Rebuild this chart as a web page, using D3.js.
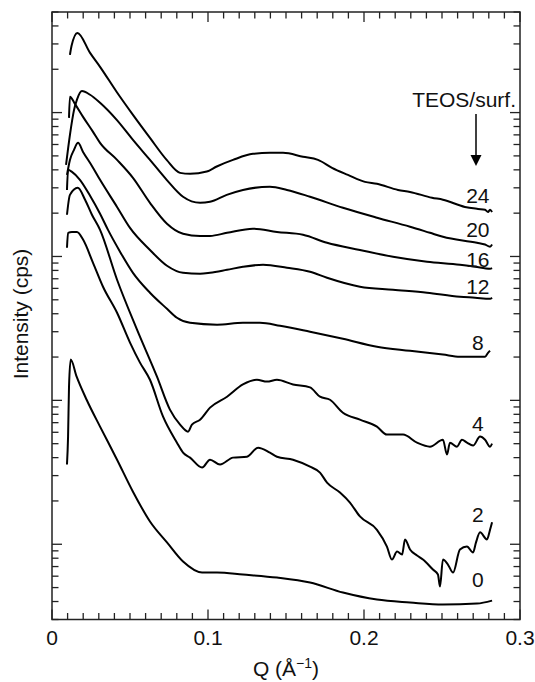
<!DOCTYPE html>
<html>
<head>
<meta charset="utf-8">
<script src="https://cdn.jsdelivr.net/npm/d3@7/dist/d3.min.js"></script>
<style>
  body { margin: 0; background: #fff; }
  text { font-family: "Liberation Sans", Arial, Helvetica, sans-serif; fill: #111; }
</style>
</head>
<body>
<svg id="chart" width="535" height="682"></svg>
<script>
// SAXS profiles, intensity (cps, vertically offset) vs Q (1/Å), one per TEOS/surfactant ratio
const teos24Q = [0.0115,0.0125,0.0163,0.0244,0.0308,0.0415,0.0519,0.0628,0.0735,0.0821,0.0885,0.0992,0.1056,0.1160,0.1288,0.1397,0.1481,0.1609,0.1705,0.1795,0.1897,0.2006,0.2083,0.2218,0.2295,0.2436,0.2506,0.2647,0.2731,0.2776,0.2795,0.2808,0.2821];
const teos24I = [25200,29000,35800,26000,20800,13900,9640,6670,4690,3810,3750,3890,4220,4690,5170,5250,5250,4930,4690,4130,3690,3300,3200,2900,2810,2560,2480,2210,2140,2110,2040,2110,2040];

const teos20Q = [0.0090,0.0115,0.0141,0.0160,0.0192,0.0244,0.0308,0.0415,0.0519,0.0628,0.0735,0.0840,0.0949,0.1013,0.1120,0.1224,0.1397,0.1506,0.1654,0.1865,0.2083,0.2295,0.2423,0.2506,0.2724,0.2776,0.2808,0.2821];
const teos20I = [4330,7000,10400,12300,14100,13300,11700,8900,6460,4690,3410,2600,2360,2400,2680,2900,3050,2900,2600,2180,1860,1610,1460,1370,1245,1210,1170,1210];

const teos16Q = [0.0109,0.0115,0.0147,0.0199,0.0263,0.0308,0.0417,0.0519,0.0628,0.0737,0.0840,0.0949,0.1013,0.1122,0.1288,0.1442,0.1609,0.1763,0.1974,0.2186,0.2404,0.2615,0.2712,0.2808,0.2821];
const teos16I = [9190,12900,11500,9340,7340,6160,4690,3520,2360,1690,1440,1390,1390,1460,1560,1480,1415,1245,1110,995,919,876,848,821,830];

const teos12Q = [0.0096,0.0115,0.0141,0.0167,0.0199,0.0256,0.0308,0.0417,0.0500,0.0628,0.0737,0.0840,0.0949,0.1013,0.1122,0.1224,0.1353,0.1506,0.1654,0.1763,0.1974,0.2186,0.2404,0.2615,0.2712,0.2808,0.2821];
const teos12I = [3690,4690,5510,6160,5330,4260,3410,2210,1580,1110,862,770,758,770,808,848,876,835,783,711,616,587,560,525,517,508,517];

const teos8Q = [0.0096,0.0103,0.0128,0.0179,0.0244,0.0308,0.0359,0.0436,0.0519,0.0628,0.0737,0.0801,0.0885,0.1058,0.1224,0.1333,0.1462,0.1654,0.1865,0.2083,0.2295,0.2506,0.2615,0.2724,0.2776,0.2795,0.2808];
const teos8I = [2900,4000,3870,3410,2640,1980,1530,1080,770,560,433,375,346,336,346,346,330,300,268,236,221,208,201,201,201,214,221];

const teos4Q = [0.0096,0.0115,0.0165,0.0212,0.0256,0.0308,0.0417,0.0545,0.0673,0.0756,0.0821,0.0872,0.0897,0.0949,0.1013,0.1122,0.1224,0.1314,0.1378,0.1442,0.1545,0.1654,0.1718,0.1782,0.1865,0.1974,0.2083,0.2147,0.2250,0.2340,0.2423,0.2506,0.2532,0.2551,0.2596,0.2628,0.2660,0.2699,0.2744,0.2776,0.2808,0.2821];
const teos4I = [1950,2680,3000,2480,1950,1530,689,310,146,86.2,67.8,60.6,67.8,73.4,89.0,106,129,139,135,139,129,123,106,101,82.1,73.4,65.7,57.8,57.8,50.8,47.7,53.3,42.0,50.8,47.7,53.3,50.8,48.5,56.0,53.3,47.7,50.0];

const teos2Q = [0.0096,0.0103,0.0128,0.0160,0.0199,0.0263,0.0327,0.0417,0.0500,0.0564,0.0628,0.0712,0.0801,0.0840,0.0885,0.0962,0.1013,0.1077,0.1160,0.1250,0.1321,0.1397,0.1442,0.1545,0.1654,0.1718,0.1763,0.1846,0.1910,0.1974,0.2083,0.2147,0.2179,0.2212,0.2244,0.2263,0.2295,0.2340,0.2378,0.2442,0.2474,0.2487,0.2506,0.2538,0.2571,0.2615,0.2660,0.2699,0.2718,0.2744,0.2788,0.2808,0.2821];
const teos2I = [1150,1460,1480,1480,1310,904,616,406,252,183,139,77.0,50.8,43.3,40.0,34.1,38.7,35.8,40.0,40.6,46.9,43.3,40.6,38.7,34.6,31.5,26.8,22.9,19.5,15.6,12.6,9.64,7.83,8.90,8.48,10.8,9.19,8.35,7.83,6.67,6.16,5.08,7.83,7.23,6.36,9.19,9.64,8.76,10.3,12.1,10.8,12.6,14.2];

const teos0Q = [0.0096,0.0103,0.0109,0.0120,0.0158,0.0222,0.0308,0.0417,0.0519,0.0628,0.0737,0.0840,0.0962,0.1058,0.1224,0.1442,0.1654,0.1865,0.2083,0.2295,0.2506,0.2724,0.2821];
const teos0I = [35.8,56.0,124,192,146,101,65.7,38.7,23.2,14.4,10.3,7.58,6.36,6.36,6.16,5.87,5.42,4.62,4.13,3.94,3.81,3.87,4.06];

const ratioLabels = ["24","20","16","12","8","4","2","0"];
const seriesQ = [teos24Q, teos20Q, teos16Q, teos12Q, teos8Q, teos4Q, teos2Q, teos0Q];
const seriesI = [teos24I, teos20I, teos16I, teos12I, teos8I, teos4I, teos2I, teos0I];

const xMajorTicks = [0, 0.1, 0.2, 0.3];
const xTickLabels = ["0", "0.1", "0.2", "0.3"];

// ---- layout ----
const plot = { left: 52, right: 520, top: 12, bottom: 619.5 };
const fontSize = 21;
const svg = d3.select("#chart");

const x = d3.scaleLinear().domain([0, 0.3]).range([plot.left, plot.right]);
const y = d3.scaleLog().domain([3, 5e4]).range([plot.bottom, plot.top]);

// tick positions
const xMinor = d3.range(0, 0.3001, 0.01).map(v => +v.toFixed(3));
const yTicks = [];
for (let e = 0; e <= 4; e++) {
  for (let m = 1; m <= 9; m++) {
    const v = m * Math.pow(10, e);
    if (v >= 3 && v <= 5e4) yTicks.push({ v, major: m === 1 });
  }
}

const majorLen = 10, minorLen = 6.5;
const axisG = svg.append("g").attr("stroke", "#222").attr("stroke-width", 1.3).attr("fill", "none");

// bottom and top ticks (pointing inward)
xMinor.forEach(v => {
  const isMajor = xMajorTicks.some(t => Math.abs(t - v) < 1e-6);
  const len = isMajor ? majorLen : minorLen;
  const px = x(v);
  axisG.append("line").attr("x1", px).attr("x2", px).attr("y1", plot.bottom).attr("y2", plot.bottom - len);
  axisG.append("line").attr("x1", px).attr("x2", px).attr("y1", plot.top).attr("y2", plot.top + len);
});

// left and right ticks (pointing inward)
yTicks.forEach(t => {
  const len = t.major ? majorLen : minorLen;
  const py = y(t.v);
  axisG.append("line").attr("x1", plot.left).attr("x2", plot.left + len).attr("y1", py).attr("y2", py);
  axisG.append("line").attr("x1", plot.right).attr("x2", plot.right - len).attr("y1", py).attr("y2", py);
});

// frame
svg.append("rect")
  .attr("x", plot.left).attr("y", plot.top)
  .attr("width", plot.right - plot.left).attr("height", plot.bottom - plot.top)
  .attr("fill", "none").attr("stroke", "#222").attr("stroke-width", 1.5);

// x tick labels
svg.append("g").selectAll("text").data(xMajorTicks).join("text")
  .attr("x", d => x(d)).attr("y", 645)
  .attr("text-anchor", "middle").attr("font-size", fontSize)
  .text((d, i) => xTickLabels[i]);

// axis titles
const xt = svg.append("text").attr("x", 286).attr("y", 676)
  .attr("text-anchor", "middle").attr("font-size", fontSize);
xt.append("tspan").text("Q (Å");
xt.append("tspan").attr("dy", -8).attr("font-size", 14).text("−1");
xt.append("tspan").attr("dy", 8).text(")");

svg.append("text")
  .attr("transform", "translate(28,314) rotate(-90)")
  .attr("text-anchor", "middle").attr("font-size", fontSize)
  .text("Intensity (cps)");

// curves
const line = d3.line().x(d => x(d[0])).y(d => y(d[1])).curve(d3.curveMonotoneX);
const curves = svg.append("g").attr("fill", "none").attr("stroke", "#000")
  .attr("stroke-width", 2).attr("stroke-linejoin", "round");
seriesQ.forEach((qs, k) => {
  const pts = qs.map((q, i) => [q, seriesI[k][i]]);
  curves.append("path").attr("d", line(pts));
});

// ratio labels just above each curve end
const labelQ = 0.273;
const labelLift = [6, 8, 2, 5, 7, 6, 10, 14];
seriesQ.forEach((qs, k) => {
  const i0 = Math.min(d3.bisectLeft(qs, labelQ), qs.length - 1);
  svg.append("text")
    .attr("x", x(labelQ)).attr("y", y(seriesI[k][i0]) - labelLift[k])
    .attr("text-anchor", "middle").attr("font-size", fontSize)
    .text(ratioLabels[k]);
});

// series direction legend
svg.append("text").attr("x", 516).attr("y", 107)
  .attr("text-anchor", "end").attr("font-size", fontSize).text("TEOS/surf.");
svg.append("line").attr("x1", 476).attr("x2", 476).attr("y1", 114).attr("y2", 157)
  .attr("stroke", "#000").attr("stroke-width", 1.5);
svg.append("path").attr("d", "M470.5,155 L481.5,155 L476,166 Z").attr("fill", "#000");
</script>
</body>
</html>
